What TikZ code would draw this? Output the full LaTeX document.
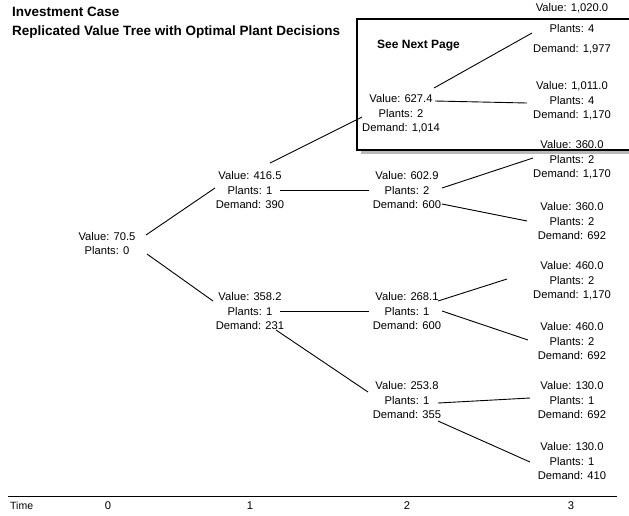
\documentclass[tikz,border=0pt]{standalone}
\usepackage{fontspec}
\setmainfont{Liberation Sans}
\usetikzlibrary{calc}

\tikzset{
  val/.style={align=center, inner sep=1pt, font=\fontsize{11.2}{14.5}\selectfont},
  branch/.style={line width=0.9pt},
}

\begin{document}
\begin{tikzpicture}[x=1pt,y=-1pt]
\useasboundingbox (0,0) rectangle (629,515);

% heading
\node[anchor=north west, align=left, inner sep=0pt, font=\fontsize{13.5}{19}\selectfont\bfseries] (title) at (12,7)
  {Investment Case\\Replicated Value Tree with Optimal Plant Decisions};

% box for the branch continued on the next page
\fill[gray!55] (361,23) rectangle (640,154);
\draw[line width=1.8pt, fill=white] (357,19) rectangle (640,150);
\node[anchor=west, inner sep=0pt, font=\fontsize{12}{14}\selectfont\bfseries] (next) at (377,46) {See Next Page};

% time 0
\node[val] (root) at (107,243.5) {Value: 70.5\\Plants: 0};

% time 1
\node[val] (n1u) at (250,190) {Value: 416.5\\Plants: 1\\Demand: 390};
\node[val] (n1d) at (250,311) {Value: 358.2\\Plants: 1\\Demand: 231};

% time 2
\node[val] (n2a) at (401,114) {Value: 627.4\\Plants: 2\\Demand: 1,014};
\node[val] (n2b) at (407,190) {Value: 602.9\\Plants: 2\\Demand: 600};
\node[val] (n2c) at (407,311) {Value: 268.1\\Plants: 1\\Demand: 600};
\node[val] (n2d) at (407,400) {Value: 253.8\\Plants: 1\\Demand: 355};

% time 3
\node[val] (l1) at (572,29) {Value: 1,020.0\\[6.5pt]Plants: 4\\[5.5pt]Demand: 1,977};
\node[val] (l2) at (572,101) {Value: 1,011.0\\Plants: 4\\Demand: 1,170};
\node[val] (l3) at (572,160) {Value: 360.0\\Plants: 2\\Demand: 1,170};
\node[val] (l4) at (572,221) {Value: 360.0\\Plants: 2\\Demand: 692};
\node[val] (l5) at (572,281) {Value: 460.0\\Plants: 2\\Demand: 1,170};
\node[val] (l6) at (572,341) {Value: 460.0\\Plants: 2\\Demand: 692};
\node[val] (l7) at (572,400) {Value: 130.0\\Plants: 1\\Demand: 692};
\node[val] (l8) at (572,461) {Value: 130.0\\Plants: 1\\Demand: 410};

% branches
\draw[branch] ($(root)+(39,-8.5)$) -- ($(n1u)+(-35,-2)$);
\draw[branch] ($(root)+(40,10.5)$) -- ($(n1d)+(-37,-10)$);
\draw[branch] ($(n1u)+(20,-27)$) -- ($(n2a)+(-39,3)$);
\draw[branch] ([xshift=-5pt]n1u.east) -- ([xshift=-3pt]n2b.west);
\draw[branch] ([xshift=-5pt]n1d.east) -- ([xshift=-3pt]n2c.west);
\draw[branch] ($(n1d)+(26,19)$) -- ($(n2d)+(-39,-8)$);
\draw[branch] ($(n2a)+(33,-26)$) -- ($(l1)+(-40,4)$);
\draw[branch] ($(n2a)+(34,-13)$) -- ($(l2)+(-45,2)$);
\draw[branch] ($(n2b)+(35,-2)$) -- ($(l3)+(-39,-2)$);
\draw[branch] ($(n2b)+(35,14)$) -- ($(l4)+(-45,0)$);
\draw[branch] ($(n2c)+(31,-10)$) -- ($(l5)+(-65,-2)$);
\draw[branch] ($(n2c)+(35,0)$) -- ($(l6)+(-44,-1)$);
\draw[branch] ($(n2d)+(31,3)$) -- ($(l7)+(-42,-2)$);
\draw[branch] ($(n2d)+(31,21)$) -- ($(l8)+(-42,1)$);

% time axis
\coordinate (ax0) at (8,496);
\coordinate (ax1) at (617,496);
\draw[line width=0.6pt] (ax0) -- (ax1);
\node[anchor=west, inner sep=0pt, font=\fontsize{10.5}{12}\selectfont] (time) at (10,506) {Time};
\foreach \t/\x in {0/108,1/250,2/407,3/571}
  \node[val] (tl\t) at (\x,506) {\t};
\end{tikzpicture}
\end{document}
